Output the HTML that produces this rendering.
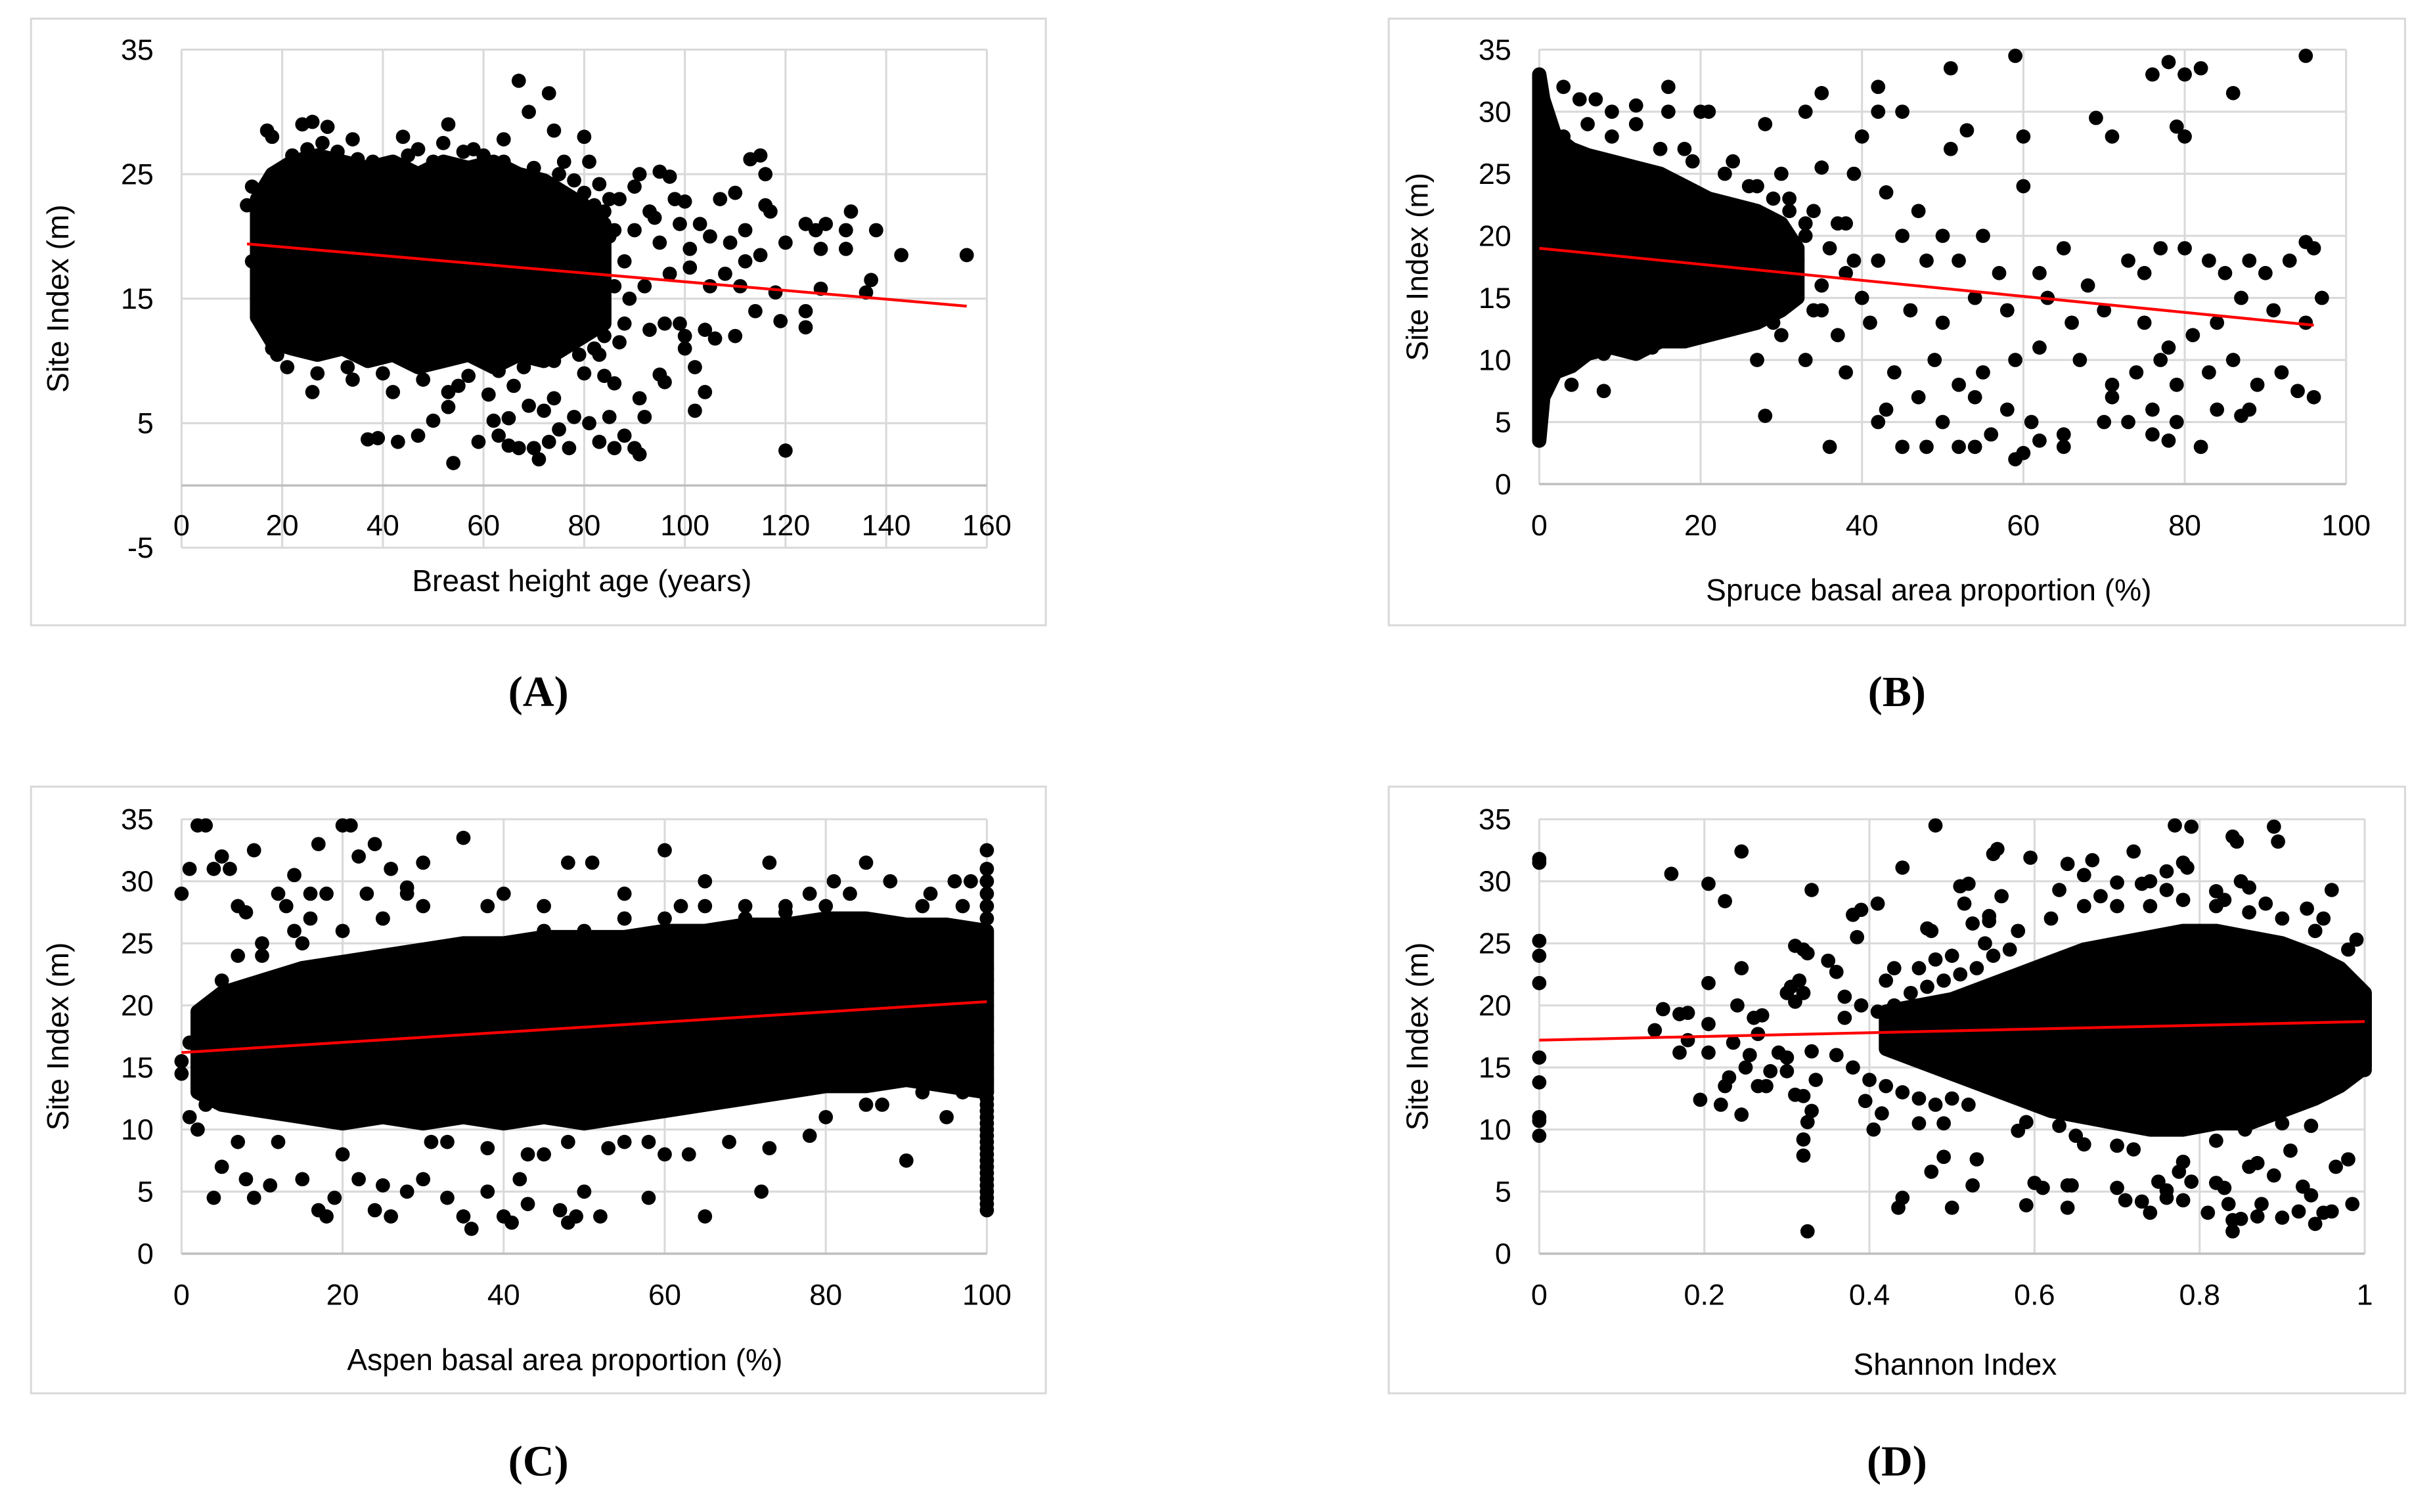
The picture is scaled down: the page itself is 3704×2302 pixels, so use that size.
<!DOCTYPE html>
<html><head><meta charset="utf-8">
<style>
html,body{margin:0;padding:0;background:#fff;}
svg{display:block;}
text{font-family:"Liberation Sans",Arial,sans-serif;fill:#000;}
.lbl{font-family:"Liberation Serif","Times New Roman",serif;font-weight:bold;}
</style></head>
<body>
<svg id="fig" width="3704" height="2302" viewBox="0 0 1568 974.5" preserveAspectRatio="none" xmlns="http://www.w3.org/2000/svg"></svg>
<script>
// ===== Panel A data: breast height age vs site index =====
const aAge = [17,18,24,26,29,34,44,47,53,52,58,64,67,69,73,74,80,76,81,83,85,87,90,91,95,97,93,98,100,103,105,107,110,112,113,115,116,116,117,120,124,126,128,127,132,132,133,138,143,156,137,136,127,124,124,119,118,114,111,110,106,104,100,99,102,104,102,96,95,92,91,90,91,88,86,85,83,81,78,77,75,73,71,70,67,65,63,62,65,69,72,74,66,61,59,54,50,47,43,39,37,42,34,26,53,53,55,84,86,80,15,18,19,14,13,14,17,120,100,93,96,89,92,97,101,105,108,109,112,115,101,95,88,85,90,94,99,86,88,84,82,22,25,28,31,35,38,45,50,56,60,64,70,75,78,80,82,84,86,21,27,33,40,48,57,63,68,74,79,83,87];
const aSI  = [28.5,28,29,29.2,28.8,27.8,28,27,29,27.5,27,27.8,32.5,30,31.5,28.5,28,26,26,24.2,23,23,24,25,25.2,24.8,22,23,22.8,21,20,23,23.5,20.5,26.2,26.5,25,22.5,22,19.5,21,20.5,21,19,19,20.5,22,20.5,18.5,18.5,16.5,15.5,15.8,14,12.7,13.2,15.5,14,16,12,11.8,12.5,12,13,9.5,7.5,6,8.3,8.9,5.5,7,3,2.5,4,3,5.5,3.5,5,5.5,3,4.5,3.5,2.1,3,3,3.2,4,5.2,5.4,6.4,6,7,8,7.3,3.5,1.8,5.2,4,3.5,3.8,3.7,7.5,8.5,7.5,6.3,7.5,8,8.8,8.2,9,13.5,11,10.5,18,22.5,24,17,2.8,11,12.5,13,15,16,17,17.5,16,17,19.5,18,18.5,19,19.5,18,20,20.5,21.5,21,16,13,12,11,26.5,27,27.5,26.8,26.2,26,26.5,26,26.8,26.5,26,25.5,25,24.5,23.5,22.5,22,20.5,9.5,9,9.5,9,8.5,8.8,9.2,9.5,10,10.5,10.5,11.5];
const aCoreX  = [15,18,22,27,32,37,42,47,52,57,62,67,72,76,80,84];
const aCoreLo = [13.5,11.5,11,10.5,11,10,10.5,9.5,10,10.5,9.5,10.5,10,11,12,13];
const aCoreHi = [23,25,26,26.5,26,25.5,26,25,26,25.5,26,25,24.5,23.5,22.5,21];
const aTrendX = [13,156];
const aTrendY = [19.4,14.4];
const aXTicks = [0,20,40,60,80,100,120,140,160];
const aYTicks = [35,25,15,5,-5];

// ===== Panel B data: spruce proportion =====
const bPct = [3,5,7,9,12,16,16,21,28,33,35,40,42,42,45,51,59,60,51,53,69,71,76,78,80,80,82,86,79,95,35,39,30,27,43,47,60,55,50,45,38,33,31,26,42,48,52,57,62,65,68,73,75,77,80,83,85,88,90,93,95,96,97,95,91,87,84,81,78,75,70,66,63,58,54,50,46,41,37,35,30,27,33,38,44,49,52,55,59,62,67,71,74,77,79,83,86,89,92,96,94,88,84,79,76,73,70,65,61,58,56,54,52,50,48,45,42,36,28,59,60,62,65,71,76,78,82,87,43,47,54,8,4,20,18,24,29,32,35,38,40,25,28,22,33,36,39,34,37,31,26,23,19,15,12,9,6,3,2,4,8,14,18,24,29,34];
const bSI  = [32,31,31,30,30.5,32,30,30,29,30,31.5,28,32,30,30,33.5,34.5,28,27,28.5,29.5,28,33,34,33,28,33.5,31.5,28.8,34.5,25.5,25,25,24,23.5,22,24,20,20,20,21,21,22,21,18,18,18,17,17,19,16,18,17,19,19,18,17,18,17,18,19.5,19,15,13,14,15,13,12,11,13,14,13,15,14,15,13,14,13,12,14,12,10,10,9,9,10,8,9,10,11,10,8,9,10,8,9,10,8,9,7,7.5,6,6,5,6,5,5,4,5,6,4,3,3,5,3,3,5,3,5.5,2,2.5,3.5,3,7,4,3.5,3,5.5,6,7,7,7.5,8,30,27,26,23,18,16,17,15,16,17,15,20,19,18,22,21,23,24,25,26,27,29,28,29,28,9,9.5,10.5,11,11.5,12.5,13,14];
const bCoreX  = [0,0.5,2,4,6,9,12,15,18,21,24,27,30,32];
const bCoreLo = [3.5,7,9,9.5,10.5,11,10.5,11.5,11.5,12,12.5,13,14,15];
const bCoreHi = [33,31,28,27,26.5,26,25.5,25,24,23,22.5,22,21,19];
const bTrendX = [0,96];
const bTrendY = [19,12.8];
const bXTicks = [0,20,40,60,80,100];
const bYTicks = [35,30,25,20,15,10,5,0];

// ===== Panel C data: aspen proportion =====
const cPct = [0,1,2,3,4,5,6,7,9,12,14,16,17,20,21,22,24,26,28,35,38,40,45,48,51,55,60,65,73,78,81,85,88,93,96,98,4,5,7,8,9,11,12,15,17,18,19,20,22,24,25,26,28,30,31,33,35,36,38,40,41,42,43,45,47,48,49,50,52,55,58,60,65,72,78,80,90,85,2,1,0,0,1,2,3,5,7,10,14,16,25,30,35,45,55,62,70,75,83,92,97,95,97,92,87,100,100,100,100,100,100,100,100,100,100,100,100,100,100,100,100,100,100,100,100,100,100,100,100,100,100,100,100,100,100,100,100,100,100,100,100,10,15,20,25,30,35,40,45,50,55,60,65,70,75,80,8,13,18,23,28,33,38,43,48,53,58,63,68,73];
const cSI  = [29,31,34.5,34.5,31,32,31,28,32.5,29,30.5,29,33,34.5,34.5,32,33,31,29,33.5,28,29,28,31.5,31.5,29,32.5,30,31.5,29,30,31.5,30,29,30,30,4.5,7,9,6,4.5,5.5,9,6,3.5,3,4.5,8,6,3.5,5.5,3,5,6,9,4.5,3,2,5,3,2.5,6,4,8,3.5,2.5,3,5,3,9,4.5,8,3,5,9.5,11,7.5,12,15,17,15.5,14.5,11,10,12,22,24,25,26,27,27,28,25,26,27,28,28,27.5,29,28,28,11,13,13,12,32.5,3.5,4.5,5.5,6.5,7.5,8.5,9.5,10.5,11.5,12.5,27,28,29,30,31,4,5,6,7,8,9,10,11,12,13,14,15,16,17,18,19,20,21,22,23,24,25,26,27,31.5,23,24,25,26,27,27,28,27,28,28,27.5,28,29,29,29.5,9,8.5,8,9,8.5,9,8,9,8.5,9.5,10,9.5,10.5,11];
const cCoreX  = [2,5,10,15,20,25,30,35,40,45,50,55,60,65,70,75,80,85,90,95,100];
const cCoreLo = [13,12,11.5,11,10.5,11,10.5,11,10.5,11,10.5,11,11.5,12,12.5,13,13.5,13.5,14,13.5,13];
const cCoreHi = [19.5,21,22,23,23.5,24,24.5,25,25,25.5,25.5,25.5,26,26,26.5,26.5,27,27,26.5,26.5,26];
const cTrendX = [0,100];
const cTrendY = [16.2,20.3];
const cXTicks = [0,20,40,60,80,100];
const cYTicks = [35,30,25,20,15,10,5,0];

// ===== Panel D data: Shannon index =====
const dH = [0,0,0,0,0,0,0,0,0,0,0.16,0.205,0.225,0.245,0.33,0.245,0.205,0.15,0.14,0.17,0.18,0.17,0.18,0.195,0.22,0.225,0.23,0.205,0.205,0.235,0.24,0.25,0.255,0.26,0.265,0.27,0.265,0.275,0.28,0.29,0.245,0.30,0.30,0.30,0.305,0.31,0.32,0.325,0.315,0.32,0.31,0.31,0.32,0.325,0.33,0.32,0.32,0.325,0.33,0.335,0.35,0.36,0.37,0.38,0.39,0.385,0.41,0.43,0.44,0.47,0.475,0.48,0.48,0.405,0.395,0.415,0.435,0.44,0.46,0.49,0.49,0.475,0.50,0.525,0.53,0.51,0.52,0.515,0.525,0.55,0.555,0.56,0.545,0.545,0.595,0.59,0.60,0.61,0.64,0.645,0.64,0.64,0.67,0.66,0.63,0.68,0.70,0.72,0.73,0.74,0.76,0.77,0.79,0.785,0.76,0.78,0.82,0.83,0.84,0.845,0.85,0.86,0.88,0.89,0.895,0.93,0.96,0.95,0.94,0.98,0.99,0.70,0.71,0.73,0.74,0.75,0.76,0.76,0.78,0.775,0.79,0.78,0.81,0.82,0.83,0.835,0.84,0.84,0.85,0.87,0.875,0.86,0.87,0.89,0.91,0.9,0.92,0.925,0.935,0.94,0.95,0.96,0.985,0.965,0.98,0.935,0.90,0.82,0.855,0.70,0.72,0.65,0.66,0.63,0.58,0.59,1.0,1.0,0.99,0.36,0.38,0.40,0.42,0.44,0.46,0.48,0.50,0.52,0.37,0.39,0.41,0.43,0.45,0.47,0.49,0.51,0.53,0.55,0.57,0.42,0.46,0.50,0.54,0.58,0.62,0.66,0.70,0.74,0.78,0.82,0.86,0.90,0.94];
const dSI = [31.8,31.5,25.2,24,21.8,15.8,13.8,11,10.7,9.5,30.6,29.8,28.4,32.4,29.3,23,21.8,19.7,18,19.3,19.4,16.2,17.2,12.4,12,13.5,14.2,16.2,18.5,17,20,15,16,19,17.7,19.2,13.5,13.5,14.7,16.2,11.2,15.8,14.7,21,21.5,24.8,24.5,24.2,22,21,20.3,12.8,12.7,10.6,11.5,9.2,7.9,1.8,16.3,14,23.6,22.7,20.7,27.3,27.7,25.5,28.2,23,31.1,26.2,26,34.5,23.7,10,12.3,11.3,3.7,4.5,10.5,10.5,7.8,6.6,3.7,5.5,7.6,29.6,29.8,28.2,26.6,32.2,32.6,28.8,27.2,26.8,31.9,3.9,5.7,5.3,5.5,5.5,3.7,31.4,31.7,30.5,29.3,28.8,29.9,32.4,29.8,30,30.8,34.5,34.4,31.1,29.3,31.5,29.2,28.5,33.6,33.2,30,29.5,28.2,34.4,33.2,27.8,29.3,27,26,24.5,25.3,5.3,4.3,4.2,3.3,5.8,5.1,4.5,4.3,6.6,5.8,7.4,3.3,5.7,5.3,4,2.7,1.8,2.8,3,4,7,7.3,6.3,8.3,2.9,3.4,5.4,4.7,2.4,3.3,3.4,4,7,7.6,10.3,10.5,9.1,10,8.7,8.4,9.5,8.8,10.3,9.9,10.6,20.5,14.8,15.7,16,15,14,13.5,13,12.5,12,12.5,12,19,20,19.5,20,21,21.5,22,22.5,23,24,24.5,22,23,24,25,26,27,28,28,28,28.5,28,27.5,27,26];
const dCoreX  = [0.42,0.46,0.5,0.54,0.58,0.62,0.66,0.7,0.74,0.78,0.82,0.86,0.9,0.94,0.97,1.0];
const dCoreLo = [16.5,15.5,14.5,13.5,12.5,11.5,11,10.5,10,10,10.5,10.5,11.5,12.5,13.5,15];
const dCoreHi = [19.5,20,20.5,21.5,22.5,23.5,24.5,25,25.5,26,26,25.5,25,24,23,21];
const dTrendX = [0,1];
const dTrendY = [17.2,18.7];
const dXTicks = [0,0.2,0.4,0.6,0.8,1];
const dXTickLabels = ["0","0.2","0.4","0.6","0.8","1"];
const dYTicks = [35,30,25,20,15,10,5,0];

const NS = "http://www.w3.org/2000/svg";
const svg = document.getElementById('fig');
function mk(tag, attrs, parent){
  const e = document.createElementNS(NS, tag);
  for (const k in attrs) e.setAttribute(k, attrs[k]);
  (parent||svg).appendChild(e);
  return e;
}
const R = 4.6;

function panel(cfg){
  const g = mk('g', {});
  
  
  const border = mk('rect', {x:cfg.box[0], y:cfg.box[1], width:cfg.box[2]-cfg.box[0], height:cfg.box[3]-cfg.box[1], fill:'none', stroke:'#d9d9d9', 'stroke-width':1.3}, g);
  
  
  const sx = v => cfg.px0 + (v - cfg.xmin) / (cfg.xmax - cfg.xmin) * (cfg.px1 - cfg.px0);
  const sy = v => cfg.py0 + (cfg.ymax - v) / (cfg.ymax - cfg.ymin) * (cfg.py1 - cfg.py0);
  cfg.yTicks.forEach(t => {
    const l = mk('line', {x1:cfg.px0, x2:cfg.px1, y1:sy(t), y2:sy(t), stroke:'#d9d9d9', 'stroke-width':1.3}, g);
    
    
    const tx = mk('text', {x:cfg.px0 - 18, y:sy(t) + 6.5, 'text-anchor':'end', 'font-size':19}, g);
    tx.textContent = String(t);
    
    
  });
  cfg.xTicks.forEach((t, i) => {
    const l = mk('line', {x1:sx(t), x2:sx(t), y1:cfg.py0, y2:cfg.py1, stroke:'#d9d9d9', 'stroke-width':1.3}, g);
    
    
    const tx = mk('text', {x:sx(t), y:cfg.xLabY, 'text-anchor':'middle', 'font-size':19}, g);
    tx.textContent = cfg.xLabels ? cfg.xLabels[i] : String(t);
    
    
  });
  const ax = mk('line', {x1:cfg.px0, x2:cfg.px1, y1:sy(0), y2:sy(0), stroke:'#bfbfbf', 'stroke-width':1.5}, g);
  
  
  let pts = [];
  cfg.coreX.forEach((x, i) => pts.push(sx(x) + ',' + sy(cfg.coreHi[i])));
  for (let i = cfg.coreX.length - 1; i >= 0; i--) pts.push(sx(cfg.coreX[i]) + ',' + sy(cfg.coreLo[i]));
  const core = mk('polygon', {points:pts.join(' '), fill:'#000', stroke:'#000', 'stroke-width':2*R, 'stroke-linejoin':'round'}, g);
  
  
  cfg.xs.forEach((x, i) => {
    if (cfg.ys[i] === undefined) return;
    const c = mk('circle', {cx:sx(x), cy:sy(cfg.ys[i]), r:R, fill:'#000'}, g);
    
    
  });
  const tl = mk('line', {x1:sx(cfg.trendX[0]), y1:sy(cfg.trendY[0]), x2:sx(cfg.trendX[1]), y2:sy(cfg.trendY[1]), stroke:'#ff0000', 'stroke-width':1.8}, g);
  
  
  const xt = mk('text', {x:cfg.xTitleX, y:cfg.xTitleY, 'text-anchor':'middle', 'font-size':19.5}, g);
  xt.textContent = cfg.xTitle;
  
  
  const ymid = (cfg.py0 + cfg.py1) / 2;
  const yt = mk('text', {x:cfg.yTitleX, y:ymid, 'text-anchor':'middle', 'font-size':19.5, transform:'rotate(-90 ' + cfg.yTitleX + ' ' + ymid + ')'}, g);
  yt.textContent = 'Site Index (m)';
  
  
  const pl = mk('text', {x:(cfg.box[0]+cfg.box[2])/2, y:cfg.lblY, 'text-anchor':'middle', 'font-size':28, class:'lbl'}, g);
  pl.textContent = cfg.label;
  
  
}

panel({name:'panel-a', box:[20,12,674,403], px0:117, px1:636, py0:32, py1:353, xmin:0, xmax:160, ymin:-5, ymax:35,
  xTicks:aXTicks, yTicks:aYTicks, xLabY:345, xTitleX:375, xTitleY:381, yTitleX:44, lblY:455, label:'(A)', xTitle:'Breast height age (years)',
  xs:aAge, ys:aSI, coreX:aCoreX, coreLo:aCoreLo, coreHi:aCoreHi, trendX:aTrendX, trendY:aTrendY});
panel({name:'panel-b', box:[895,12,1550,403], px0:992, px1:1512, py0:32, py1:312, xmin:0, xmax:100, ymin:0, ymax:35,
  xTicks:bXTicks, yTicks:bYTicks, xLabY:345, xTitleX:1243, xTitleY:387, yTitleX:920, lblY:455, label:'(B)', xTitle:'Spruce basal area proportion (%)',
  xs:bPct, ys:bSI, coreX:bCoreX, coreLo:bCoreLo, coreHi:bCoreHi, trendX:bTrendX, trendY:bTrendY});
panel({name:'panel-c', box:[20,507,674,898], px0:117, px1:636, py0:528, py1:808, xmin:0, xmax:100, ymin:0, ymax:35,
  xTicks:cXTicks, yTicks:cYTicks, xLabY:841, xTitleX:364, xTitleY:883, yTitleX:44, lblY:951, label:'(C)', xTitle:'Aspen basal area proportion (%)',
  xs:cPct, ys:cSI, coreX:cCoreX, coreLo:cCoreLo, coreHi:cCoreHi, trendX:cTrendX, trendY:cTrendY});
panel({name:'panel-d', box:[895,507,1550,898], px0:992, px1:1524, py0:528, py1:808, xmin:0, xmax:1, ymin:0, ymax:35,
  xTicks:dXTicks, xLabels:dXTickLabels, yTicks:dYTicks, xLabY:841, xTitleX:1260, xTitleY:886, yTitleX:920, lblY:951, label:'(D)', xTitle:'Shannon Index',
  xs:dH, ys:dSI, coreX:dCoreX, coreLo:dCoreLo, coreHi:dCoreHi, trendX:dTrendX, trendY:dTrendY});
</script>
</body></html>
